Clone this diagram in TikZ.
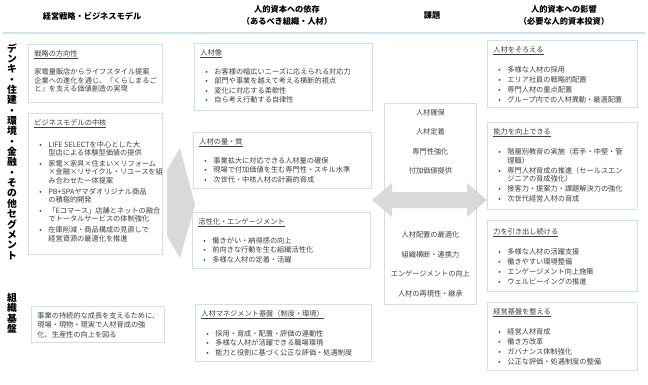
\documentclass[tikz,border=0pt]{standalone}
\usepackage{fontspec}
\setmainfont{Noto Sans CJK JP}
\usetikzlibrary{positioning}

\definecolor{panelline}{HTML}{C8E2F2}
\definecolor{rulecol}{HTML}{CCE4F3}
\definecolor{bodytext}{HTML}{404040}
\definecolor{flowgray}{HTML}{D9D9D9}

\newcommand{\bodyfont}{\fontsize{7.2}{8.4}\selectfont}
\newcommand{\pbul}{\hspace*{5pt}\makebox[9pt][l]{•}}
\newcommand{\pcont}{\hspace*{14pt}}
\newcommand{\ptitle}[1]{\underline{#1}}
% width, height, text of a panel
\newcommand{\panelbody}[3]{\parbox[c][#2][t]{#1}{\vspace*{6pt}#3}}

\begin{document}
\begin{tikzpicture}[
  x=1pt, y=-1pt,
  panel/.style={
    draw=panelline,
    line width=0.8pt,
    fill=white,
    anchor=north west,
    inner xsep=6pt,
    inner ysep=0pt,
    text=bodytext,
    font=\bodyfont
  },
  head/.style={
    align=center,
    inner sep=0pt,
    font=\bfseries\fontsize{8.2}{12}\selectfont
  },
  sidelabel/.style={
    align=center,
    inner sep=0pt,
    font=\bfseries\fontsize{9.8}{10.35}\selectfont
  },
  headrule/.style={draw=rulecol, line width=1.5pt},
  bigarrow/.style={fill=flowgray}
]
\useasboundingbox (0,0) rectangle (648,385);

% header
\node[head] (hstrat) at (92,16) {経営戦略・ビジネスモデル};
\node[head] (hdep) at (287,15) {人的資本への依存\\（あるべき組織・人材）};
\node[head] (hissue) at (432,16) {課題};
\node[head] (himp) at (564,15) {人的資本への影響\\（必要な人的資本投資）};
\draw[headrule] (3,33) -- (645,33);

% side labels
\node[sidelabel] (segments) at (12,151.5) {デ\\ン\\キ\\・\\住\\建\\・\\環\\境\\・\\金\\融\\・\\そ\\の\\他\\セ\\グ\\メ\\ン\\ト};
\node[sidelabel] (orgbase) at (12,313) {組\\織\\基\\盤};

% left column
\node[panel] (strat) at (28,44) {\panelbody{122pt}{58pt}{%
  \ptitle{戦略の方向性}\\[8.5pt]
  家電量販店からライフスタイル提案\\
  企業への進化を通じ、『くらしまるご\\
  と』を支える価値創造の実現}};
\node[panel] (core) at (28,113) {\panelbody{122pt}{141pt}{%
  \ptitle{ビジネスモデルの中核}\\[12pt]
  \pbul LIFE SELECTを中心とした大\\
  \pcont 型店による体験型価値の提供\\[2.5pt]
  \pbul 家電×家具×住まい×リフォーム\\
  \pcont ×金融×リサイクル・リユースを組\\
  \pcont み合わせた一体提案\\[2.5pt]
  \pbul PB+SPAヤマダオリジナル商品\\
  \pcont の積極的開発\\[2.5pt]
  \pbul 「Eコマース」店舗とネットの融合\\
  \pcont でトータルサービスの体制強化\\[2.5pt]
  \pbul 在庫削減・商品構成の見直しで\\
  \pcont 経営資源の最適化を推進}};
\node[panel] (base) at (31,306) {\panelbody{121pt}{36pt}{%
  事業の持続的な成長を支えるために、\\[1pt]
  現場・現物・現実で人材育成の強\\[1pt]
  化、生産性の向上を図る}};

% middle column
\node[panel] (ideal) at (194,43) {\panelbody{166pt}{67pt}{%
  \ptitle{人材像}\\[9pt]
  \pbul お客様の幅広いニーズに応えられる対応力\\[1.1pt]
  \pbul 部門や事業を越えて考える横断的視点\\[1.1pt]
  \pbul 変化に対応する柔軟性\\[1.1pt]
  \pbul 自ら考え行動する自律性}};
\node[panel] (quality) at (193,132) {\panelbody{166pt}{56pt}{%
  \ptitle{人材の量・質}\\[9pt]
  \pbul 事業拡大に対応できる人材量の確保\\[1.2pt]
  \pbul 現場で付加価値を生む専門性・スキル水準\\[1.2pt]
  \pbul 次世代・中核人材の計画的育成}};
\node[panel] (engage) at (192,212) {\panelbody{166pt}{56pt}{%
  \ptitle{活性化・エンゲージメント}\\[9pt]
  \pbul 働きがい・納得感の向上\\[1.2pt]
  \pbul 前向きな行動を生む組織活性化\\[1.2pt]
  \pbul 多様な人材の定着・活躍}};
\node[panel] (hrbase) at (195,304) {\panelbody{164pt}{57pt}{%
  \ptitle{人材マネジメント基盤（制度・環境）}\\[10pt]
  \pbul 採用・育成・配置・評価の連動性\\[1.2pt]
  \pbul 多様な人材が活躍できる職場環境\\[1.2pt]
  \pbul 能力と役割に基づく公正な評価・処遇制度}};

% issues
\node[panel] (issues) at (384,103) {\panelbody{80pt}{201pt}{%
  \centering\fontsize{7.2}{19.5}\selectfont
  人材確保\\
  人材定着\\
  専門性強化\\
  付加価値提供\\[44.4pt]
  人材配置の最適化\\
  組織横断・連携力\\
  エンゲージメントの向上\\
  人材の再現性・継承}};

% right column
\node[panel] (gather) at (487,40) {\panelbody{138pt}{67pt}{%
  \ptitle{人材をそろえる}\\[10.5pt]
  \pbul 多様な人材の採用\\[1.5pt]
  \pbul エリア社員の戦略的配置\\[1.5pt]
  \pbul 専門人材の重点配置\\[1.5pt]
  \pbul グループ内での人材異動・最適配置}};
\node[panel] (skill) at (487,122) {\panelbody{138pt}{87pt}{%
  \ptitle{能力を向上できる}\\[10.5pt]
  \pbul 階層別教育の実施（若手・中堅・管\\
  \pcont 理職）\\[1.6pt]
  \pbul 専門人材育成の推進（セールスエン\\
  \pcont ジニアの育成強化）\\[1.6pt]
  \pbul 接客力・提案力・課題解決力の強化\\[1.6pt]
  \pbul 次世代経営人材の育成}};
\node[panel] (draw) at (487,220) {\panelbody{138pt}{71pt}{%
  \vspace*{2pt}\ptitle{力を引き出し続ける}\\[10.5pt]
  \pbul 多様な人材の活躍支援\\[1.6pt]
  \pbul 働きやすい環境整備\\[1.6pt]
  \pbul エンゲージメント向上施策\\[1.6pt]
  \pbul ウェルビーイングの推進}};
\node[panel] (mgmt) at (487,302) {\panelbody{138pt}{68pt}{%
  \ptitle{経営基盤を整える}\\[10.5pt]
  \pbul 経営人材育成\\[1.5pt]
  \pbul 働き方改革\\[1.5pt]
  \pbul ガバナンス体制強化\\[1.5pt]
  \pbul 公正な評価・処遇制度の整備}};

% big arrows
\fill[bigarrow] (180,148) -- (195,205) -- (180,258) -- (167,236) -- (167,170) -- cycle;
\fill[bigarrow] (372,200) -- (392,183) -- (392,192) -- (467,192) -- (467,183)
  -- (487,200) -- (467,217) -- (467,208) -- (392,208) -- (392,217) -- cycle;

\end{tikzpicture}
\end{document}
